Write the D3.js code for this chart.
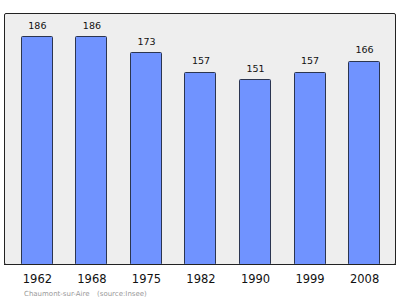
<!DOCTYPE html>
<html>
<head>
<meta charset="utf-8">
<script src="https://cdn.jsdelivr.net/npm/d3@7"></script>
<style>
  body { margin: 0; background: white; }
  text { font-family: "DejaVu Sans", sans-serif; }
</style>
</head>
<body>
<div id="chart"></div>
<script>
var years = ["1962", "1968", "1975", "1982", "1990", "1999", "2008"];
var population = [186, 186, 173, 157, 151, 157, 166];
var place = "Chaumont-sur-Aire";
var source = "(source:Insee)";

var width = 400, height = 299;
var plot = { left: 4, right: 395, top: 13, bottom: 264 };

var svg = d3.select("#chart").append("svg")
  .attr("width", width)
  .attr("height", height);

// frame
svg.append("rect")
  .attr("x", plot.left + 0.5)
  .attr("y", plot.top + 0.5)
  .attr("width", plot.right - plot.left)
  .attr("height", plot.bottom - plot.top)
  .attr("rx", 1.5)
  .style("fill", "#eeeeee")
  .style("stroke", "#222")
  .style("stroke-width", 1);

var x = d3.scaleBand()
  .domain(years)
  .range([plot.left + 0.5, plot.right + 0.5])
  .paddingInner(0.43)
  .paddingOuter(0.3);

var y = d3.scaleLinear()
  .domain([0, 205])
  .range([plot.bottom, plot.top]);

var data = years.map(function(d, i) { return { year: d, value: population[i] }; });

svg.selectAll(".bar")
  .data(data)
  .enter()
  .append("rect")
  .attr("class", "bar")
  .attr("x", function(d) { return Math.round(x(d.year)) + 0.5; })
  .attr("y", function(d) { return Math.round(y(d.value)) + 0.5; })
  .attr("width", Math.round(x.bandwidth()))
  .attr("height", function(d) { return plot.bottom - Math.round(y(d.value)); })
  .attr("rx", 1)
  .style("fill", "#7093ff")
  .style("stroke", "#2b3550")
  .style("stroke-width", 1);

svg.selectAll(".val")
  .data(data)
  .enter()
  .append("text")
  .attr("x", function(d) { return x(d.year) + x.bandwidth() / 2 + 1; })
  .attr("y", function(d) { return y(d.value) - 7.5; })
  .attr("text-anchor", "middle")
  .style("font-size", "9.5px")
  .style("fill", "#111")
  .text(function(d) { return d.value; });

// bottom axis line redrawn on top
svg.append("line")
  .attr("x1", plot.left)
  .attr("x2", plot.right + 1)
  .attr("y1", plot.bottom + 0.5)
  .attr("y2", plot.bottom + 0.5)
  .style("stroke", "#222");

svg.selectAll(".year")
  .data(years)
  .enter()
  .append("text")
  .attr("x", function(d) { return x(d) + x.bandwidth() / 2 + 1; })
  .attr("y", 283)
  .attr("text-anchor", "middle")
  .style("font-size", "11.5px")
  .style("fill", "#111")
  .text(function(d) { return d; });

svg.append("text")
  .attr("x", 24)
  .attr("y", 296)
  .style("font-size", "7px")
  .style("fill", "#999")
  .text(place);

svg.append("text")
  .attr("x", 97)
  .attr("y", 296)
  .style("font-size", "7px")
  .style("fill", "#999")
  .text(source);
</script>
</body>
</html>
